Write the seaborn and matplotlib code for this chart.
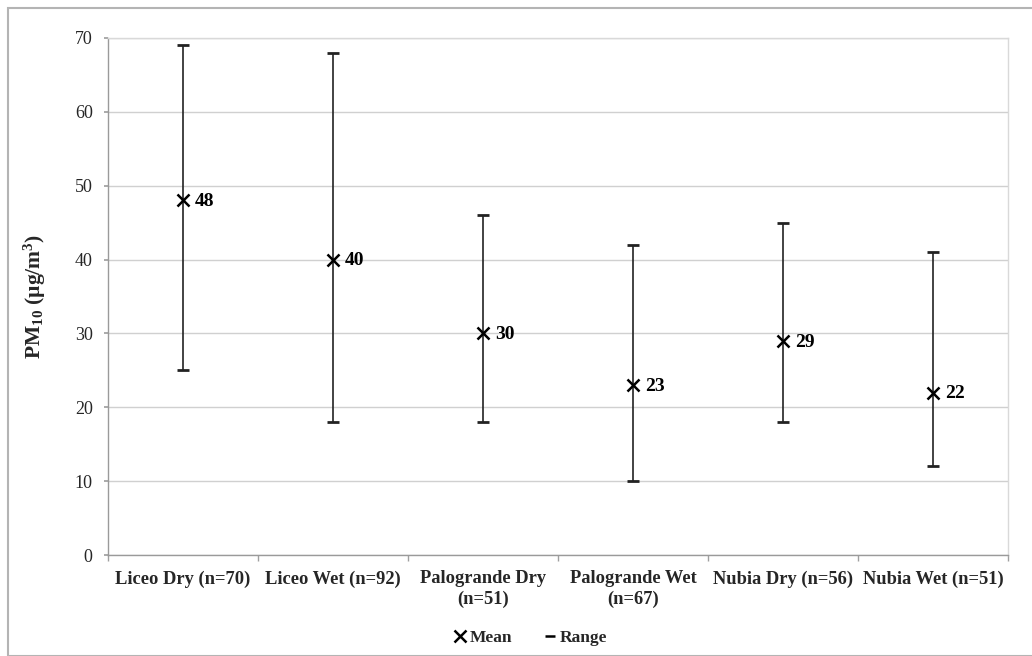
import matplotlib
matplotlib.use("Agg")
import matplotlib.pyplot as plt
from matplotlib.lines import Line2D
from matplotlib.patches import Rectangle
import seaborn as sns
import pandas as pd
import numpy as np

categories = ["Liceo Dry (n=70)", "Liceo Wet (n=92)", "Palogrande Dry\n(n=51)",
              "Palogrande Wet\n(n=67)", "Nubia Dry (n=56)", "Nubia Wet (n=51)"]
mean_vals = [48, 40, 30, 23, 29, 22]
range_min = [25, 18, 18, 10, 18, 12]
range_max = [69, 68, 46, 42, 45, 41]
y_ticks = [0, 10, 20, 30, 40, 50, 60, 70]

sns.set_theme(style="white")
plt.rcParams["font.family"] = ["Liberation Serif", "DejaVu Serif"]
plt.rcParams["mathtext.fontset"] = "custom"
plt.rcParams["mathtext.rm"] = "Liberation Serif:bold"
plt.rcParams["mathtext.bf"] = "Liberation Serif:bold"
plt.rcParams["mathtext.it"] = "Liberation Serif:bold"

df = pd.DataFrame({"cat": categories, "mean": mean_vals, "lo": range_min, "hi": range_max})

fig = plt.figure(figsize=(10.32, 6.56), dpi=100)
ax = fig.add_axes([108/1032, 1-555/656, 900/1032, 517/656])

# outer frame
fig.patches.append(Rectangle((8/1032, 0.0), 1.2, 1-8/656, transform=fig.transFigure,
                             fill=False, edgecolor="#b4b4b4", linewidth=1.5, zorder=0))

ax.set_ylim(0, 70)
ax.set_yticks(y_ticks)
ax.yaxis.grid(True, color="#d0d0d0", linewidth=1)
ax.set_axisbelow(True)

x = np.arange(len(categories))
yerr = np.vstack([df["mean"] - df["lo"], df["hi"] - df["mean"]])
ax.errorbar(x, df["mean"], yerr=yerr, fmt="none", ecolor="#222222",
            elinewidth=1.2, capsize=4, capthick=2, zorder=2)

sns.scatterplot(data=df, x="cat", y="mean", marker="x", s=75, color="black",
                linewidth=1.8, ax=ax, zorder=3, legend=False)

for xi, m in zip(x, mean_vals):
    ax.annotate(f"{m}", (xi, m), xytext=(8.5, -1), textcoords="offset points",
                ha="left", va="center", fontsize=14, fontweight="bold", color="black")

ax.set_xlim(-0.5, len(categories) - 0.5)
ax.set_xticks(x)
ax.set_xticklabels(categories, fontsize=13.3, fontweight="bold", linespacing=1.25)
ax.set_xticks(np.arange(-0.5, len(categories), 1.0), minor=True)
ax.tick_params(axis="x", which="major", length=0, pad=11)
ax.tick_params(axis="x", which="minor", length=4, color="#a0a0a0", width=1, bottom=True)
ax.tick_params(axis="y", which="major", length=3, color="#a0a0a0", labelsize=13, pad=8, left=True)
for lbl in ax.get_yticklabels():
    lbl.set_fontweight("normal")

ax.set_xlabel("")
ax.set_ylabel(r"PM$_{10}$ (µg/m$^{3}$)", fontsize=15.5, fontweight="bold", labelpad=19)

for side in ["left", "bottom"]:
    ax.spines[side].set_color("#9a9a9a")
    ax.spines[side].set_linewidth(1)
for side in ["top", "right"]:
    ax.spines[side].set_color("#d9d9d9")
    ax.spines[side].set_linewidth(1)

handles = [Line2D([], [], marker="x", linestyle="none", color="black", markersize=9, markeredgewidth=1.8),
           Line2D([], [], marker="_", linestyle="none", color="black", markersize=7, markeredgewidth=1.8)]
fig.legend(handles, ["Mean", "Range"], loc="center", bbox_to_anchor=(531/1032, 1-638/656),
           ncol=2, frameon=False, prop={"weight": "bold", "size": 12.5}, handlelength=0.6,
           handletextpad=0.25, columnspacing=1.9)

fig.savefig("out.png", dpi=100)
